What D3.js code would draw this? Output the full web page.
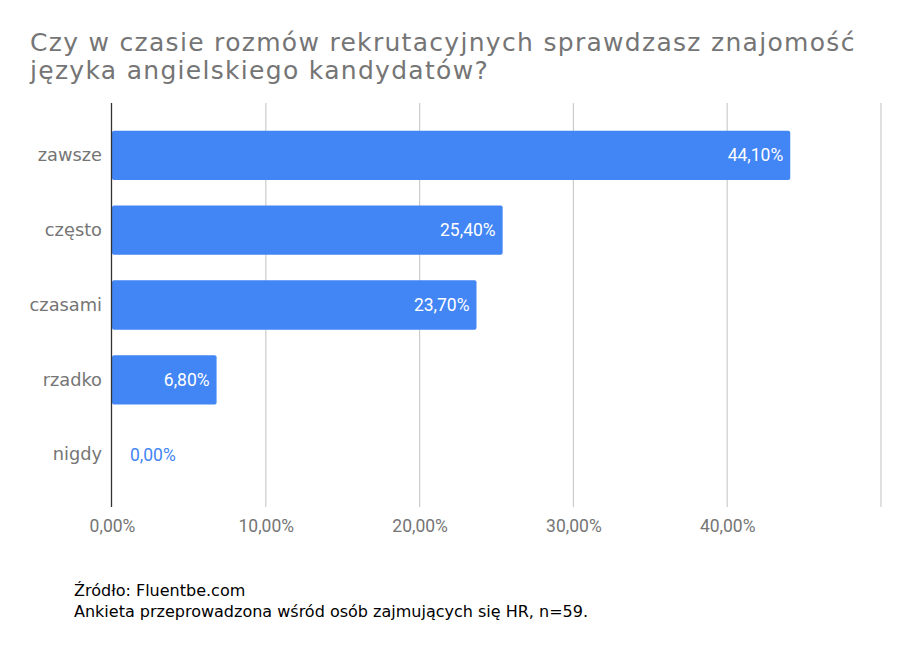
<!DOCTYPE html>
<html>
<head>
<meta charset="utf-8">
<script src="https://cdn.jsdelivr.net/npm/d3@7"></script>
<style>
  body { margin: 0; background: #fff; }
  svg { display: block; }
</style>
</head>
<body>
<div class="svg-container"></div>
<script>
// data
const categories = ['zawsze', 'często', 'czasami', 'rzadko', 'nigdy'];
const values = [44.1, 25.4, 23.7, 6.8, 0.0];
const xTicks = [0, 10, 20, 30, 40, 50];
const titleLines = ['Czy w czasie rozmów rekrutacyjnych sprawdzasz znajomość', 'języka angielskiego kandydatów?'];
const footerLines = ['Źródło: Fluentbe.com', 'Ankieta przeprowadzona wśród osób zajmujących się HR, n=59.'];

const fmt = v => v.toFixed(2).replace('.', ',') + '%';

const W = 914, H = 645;
const margin = {top: 103, right: 33, bottom: 138, left: 112};
const width = W - margin.left - margin.right;
const height = H - margin.top - margin.bottom;

const svg = d3.select('.svg-container')
  .append('svg')
  .attr('width', W)
  .attr('height', H);

// title (verdana-ish width -> a bit of letter spacing)
svg.append('g')
  .selectAll('text')
  .data(titleLines)
  .join('text')
  .attr('x', 30)
  .attr('y', (d, i) => 51 + i * 28)
  .style('font-family', 'DejaVu Sans, Verdana, sans-serif')
  .style('font-size', '25px')
  .style('letter-spacing', '1.3px')
  .style('fill', '#757575')
  .text(d => d);

const g = svg.append('g')
  .attr('transform', `translate(${margin.left}, ${margin.top})`);

const xScale = d3.scaleLinear().domain([0, 50]).range([0, width]);
const yScale = d3.scaleBand().domain(categories).range([0, height]).paddingInner(0.34).paddingOuter(0.37);

// gridlines
g.append('g')
  .selectAll('line')
  .data(xTicks.slice(1))
  .join('line')
  .attr('x1', d => xScale(d)).attr('x2', d => xScale(d))
  .attr('y1', 0).attr('y2', height)
  .attr('stroke', '#cccccc')
  .attr('stroke-width', 1.2);

// x axis labels
const xAxis = d3.axisBottom(xScale).tickValues(xTicks.slice(0, 5)).tickSize(0).tickPadding(13).tickFormat(fmt);
const xAxisDraw = g.append('g')
  .attr('class', 'x axis')
  .attr('transform', `translate(0, ${height})`)
  .call(xAxis);
xAxisDraw.select('.domain').remove();
xAxisDraw.selectAll('text')
  .style('font-family', 'Roboto, sans-serif')
  .style('font-size', '17.5px')
  .style('fill', '#757575');

// bars
g.append('g')
  .selectAll('rect')
  .data(values)
  .join('rect')
  .attr('x', 0)
  .attr('y', (d, i) => yScale(categories[i]))
  .attr('width', d => Math.max(0, xScale(d)))
  .attr('height', yScale.bandwidth())
  .attr('rx', 2)
  .attr('fill', '#4285f4');

// bar labels
g.append('g')
  .selectAll('text')
  .data(values)
  .join('text')
  .attr('x', d => xScale(d) > 60 ? xScale(d) - 7 : xScale(d) + 18)
  .attr('y', (d, i) => yScale(categories[i]) + yScale.bandwidth() / 2)
  .attr('dy', '0.35em')
  .attr('text-anchor', d => xScale(d) > 60 ? 'end' : 'start')
  .style('font-family', 'Roboto, sans-serif')
  .style('font-size', '17.5px')
  .style('fill', d => xScale(d) > 60 ? '#ffffff' : '#4285f4')
  .text(fmt);

// y axis
const yAxis = d3.axisLeft(yScale).tickSize(0).tickPadding(10);
const yAxisDraw = g.append('g')
  .attr('class', 'y axis')
  .call(yAxis);
yAxisDraw.select('.domain').attr('stroke', '#333333').attr('stroke-width', 1.3).attr('d', `M-0.5,0V${height}`);
yAxisDraw.selectAll('text')
  .style('font-family', 'DejaVu Sans, Verdana, sans-serif')
  .style('font-size', '17.8px')
  .style('fill', '#757575');

// footer
svg.append('g')
  .selectAll('text')
  .data(footerLines)
  .join('text')
  .attr('x', 74)
  .attr('y', (d, i) => 596 + i * 21)
  .style('font-family', 'DejaVu Sans, Verdana, sans-serif')
  .style('font-size', '16px')
  .style('fill', '#000000')
  .text(d => d);
</script>
</body>
</html>
